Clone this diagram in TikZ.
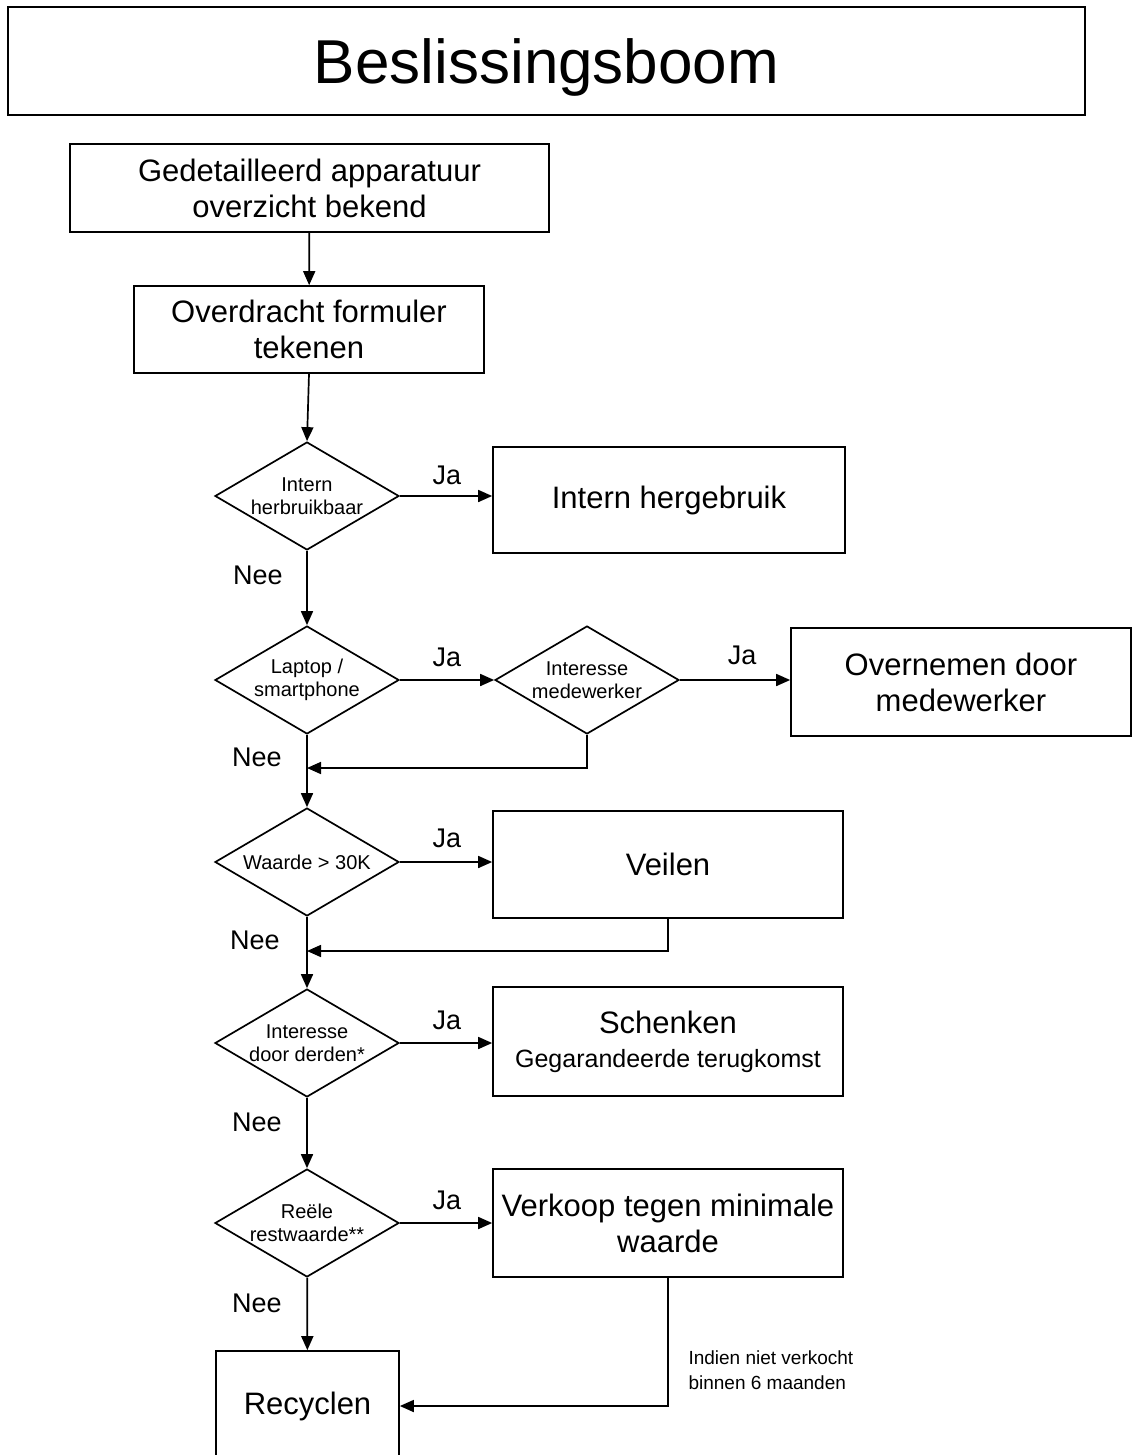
\documentclass[tikz,border=0pt]{standalone}
\usepackage{fontspec}
\setmainfont{Liberation Sans}
\usetikzlibrary{shapes.geometric,arrows.meta}

\begin{document}
\begin{tikzpicture}[x=1pt,y=-1pt,
  box/.style={draw, line width=1.7pt, align=center, inner sep=0pt,
    font=\fontsize{31}{36}\selectfont},
  keuze/.style={draw, shape=diamond, shape aspect=1.7, line width=1.7pt,
    align=center, inner sep=0pt, minimum width=184pt, minimum height=108pt,
    font=\fontsize{20}{23}\selectfont},
  lbl/.style={font=\fontsize{27}{30}\selectfont},
  pijl/.style={line width=1.7pt, -{Triangle[length=14pt,width=12pt]}}]
\useasboundingbox (0,0) rectangle (1132,1455);

\node[box, minimum width=1077pt, minimum height=108pt, text depth=0pt,
  font=\fontsize{62}{70}\selectfont] (titel) at (546.5,61) {Beslissingsboom};

\node[box, minimum width=479pt, minimum height=88pt] (detail) at (309.5,188)
  {Gedetailleerd apparatuur\\overzicht bekend};
\node[box, minimum width=350pt, minimum height=87pt] (formulier) at (309,329.5)
  {Overdracht formuler\\tekenen};

\node[keuze] (intern) at (307,496) {Intern\\herbruikbaar};
\node[box, minimum width=352pt, minimum height=106pt] (hergebruik) at (669,500)
  {Intern hergebruik};

\node[keuze] (laptop) at (307,680) {Laptop /\\smartphone};
\node[keuze] (interesse) at (587,680) {Interesse\\medewerker};
\node[box, minimum width=340pt, minimum height=108pt] (overnemen) at (961,682)
  {Overnemen door\\medewerker};

\node[keuze] (waarde) at (307,862) {Waarde > 30K};
\node[box, minimum width=350pt, minimum height=107pt] (veilen) at (668,864.5)
  {Veilen};

\node[keuze] (derden) at (307,1043) {Interesse\\door derden*};
\node[box, minimum width=350pt, minimum height=109pt] (schenken) at (668,1041.5)
  {Schenken\\[-2pt]{\fontsize{25}{30}\selectfont Gegarandeerde terugkomst}};

\node[keuze] (rest) at (307,1223) {Reële\\restwaarde**};
\node[box, minimum width=350pt, minimum height=108pt] (verkoop) at (668,1223)
  {Verkoop tegen minimale\\waarde};

\node[box, minimum width=183pt, minimum height=110pt] (recyclen) at (307.5,1406)
  {Recyclen};

\coordinate (terug1) at (307,768);
\coordinate (terug2) at (307,951);

% hoofdlijn
\draw[pijl] (detail) -- (formulier);
\draw[pijl] (formulier.south) -- (intern.north);
\draw[pijl] (intern) -- (laptop);
\draw[pijl] (laptop) -- (waarde);
\draw[pijl] (waarde) -- (derden);
\draw[pijl] (derden) -- (rest);
\draw[pijl] (rest) -- (recyclen);

% ja-takken
\draw[pijl] (intern.east) -- (intern.east -| hergebruik.west);
\draw[pijl] (laptop) -- (interesse);
\draw[pijl] (interesse.east) -- (interesse.east -| overnemen.west);
\draw[pijl] (waarde.east) -- (waarde.east -| veilen.west);
\draw[pijl] (derden.east) -- (derden.east -| schenken.west);
\draw[pijl] (rest.east) -- (rest.east -| verkoop.west);

% terug naar de hoofdlijn
\draw[pijl] (interesse.south) |- (terug1);
\draw[pijl] (veilen.south) |- (terug2);
\draw[pijl] (verkoop.south) |- (recyclen.east);

\node[lbl] (ja1) at (447,475) {Ja};
\node[lbl] (ja2) at (447,657) {Ja};
\node[lbl] (ja3) at (742,655) {Ja};
\node[lbl] (ja4) at (447,838) {Ja};
\node[lbl] (ja5) at (447,1020) {Ja};
\node[lbl] (ja6) at (447,1200) {Ja};

\node[lbl] (nee1) at (258,575) {Nee};
\node[lbl] (nee2) at (257,757) {Nee};
\node[lbl] (nee3) at (255,940) {Nee};
\node[lbl] (nee4) at (257,1122) {Nee};
\node[lbl] (nee5) at (257,1303) {Nee};

\node[anchor=west, align=left, font=\fontsize{19}{25}\selectfont] (noot) at (685,1370)
  {Indien niet verkocht\\binnen 6 maanden};
\end{tikzpicture}
\end{document}
